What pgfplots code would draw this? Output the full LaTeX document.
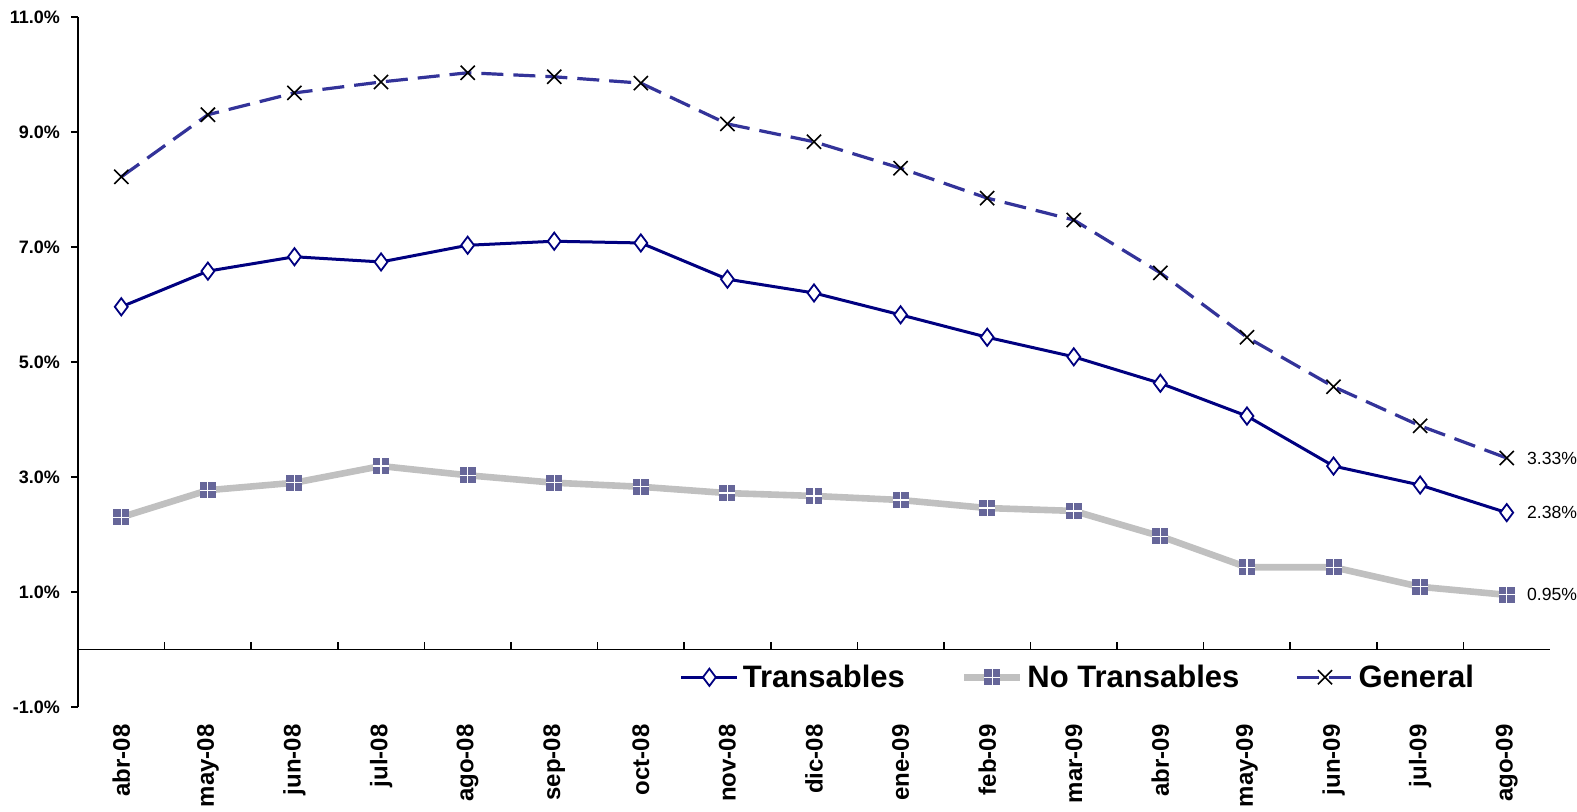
\documentclass[border=0pt]{standalone}
\usepackage{pgfplots}
\pgfplotsset{compat=1.18}
\usepackage{fontspec}
\setmainfont{Liberation Sans}
\definecolor{navy}{RGB}{0,0,128}
\definecolor{genblue}{RGB}{51,51,153}
\definecolor{ntgray}{RGB}{192,192,192}
\definecolor{ntmark}{RGB}{102,102,153}

\pgfdeclareplotmark{sqplus}{%
  \pgfsetfillcolor{ntmark}%
  \pgfpathrectangle{\pgfpoint{-\pgfplotmarksize}{-\pgfplotmarksize}}{\pgfpoint{2\pgfplotmarksize}{2\pgfplotmarksize}}%
  \pgfusepath{fill}%
  \pgfsetstrokecolor{white}\pgfsetlinewidth{0.6pt}%
  \pgfpathmoveto{\pgfpoint{-\pgfplotmarksize}{0pt}}\pgfpathlineto{\pgfpoint{\pgfplotmarksize}{0pt}}%
  \pgfpathmoveto{\pgfpoint{0pt}{-\pgfplotmarksize}}\pgfpathlineto{\pgfpoint{0pt}{\pgfplotmarksize}}%
  \pgfusepath{stroke}}

\pgfplotstableread{
x trans notrans general
0  5.96 2.30 8.22
1  6.58 2.77 9.30
2  6.83 2.90 9.68
3  6.74 3.19 9.87
4  7.03 3.03 10.03
5  7.10 2.90 9.96
6  7.07 2.83 9.85
7  6.44 2.72 9.14
8  6.20 2.67 8.83
9  5.82 2.60 8.37
10 5.43 2.46 7.85
11 5.09 2.41 7.47
12 4.63 1.97 6.55
13 4.06 1.43 5.43
14 3.19 1.43 4.57
15 2.86 1.09 3.89
16 2.38 0.95 3.33
}\datatable

\begin{document}
\begin{tikzpicture}
\begin{axis}[
  name=ax,
  scale only axis,
  width=736pt, height=345pt,
  xmin=-0.5, xmax=16.5,
  ymin=-1, ymax=11,
  clip=false,
  axis y line=left,
  axis x line=bottom,
  x axis line style={draw=none},
  y axis line style={-, line width=0.8pt},
  xtick=data,
  xticklabels={abr-08,may-08,jun-08,jul-08,ago-08,sep-08,oct-08,nov-08,dic-08,ene-09,feb-09,mar-09,abr-09,may-09,jun-09,jul-09,ago-09},
  major x tick style={draw=none},
  xticklabel style={rotate=90, anchor=east, font=\bfseries\fontsize{12}{14}\selectfont, inner sep=0pt, yshift=0pt, xshift=-5pt},
  ytick={-1,1,3,5,7,9,11},
  yticklabel={\pgfmathprintnumber[fixed,fixed zerofill,precision=1]{\tick}\%},
  /pgf/number format/assume math mode=true,
  yticklabel style={font=\bfseries\fontsize{9}{11}\selectfont, xshift=-2pt},
  tick align=outside,
  major tick length=3.5pt,
  major y tick style={line width=0.8pt, black},
  legend style={draw=none, fill=none, at={(0.68,0.043)}, anchor=center,
    font=\bfseries\fontsize{15.5}{18}\selectfont,
    /tikz/every even column/.append style={column sep=26pt}},
  legend columns=3,
  legend cell align=left,
  legend image code/.code={\draw[mark repeat=2,mark phase=2,#1] plot coordinates {(0pt,0pt) (14pt,0pt) (28pt,0pt)};},
]
\addplot[navy, line width=1.5pt, mark=diamond*, mark size=4.3pt, mark options={solid, fill=white, draw=navy, line width=0.9pt}] table[x=x,y=trans] {\datatable};
\addlegendentry{Transables}
\addplot[ntgray, line width=3.3pt, mark=sqplus, mark size=4pt] table[x=x,y=notrans] {\datatable};
\addlegendentry{No Transables}
\addplot[genblue, line width=1.6pt, dash pattern=on 11pt off 5pt, mark=x, mark size=5pt, mark options={solid, black, line width=0.8pt}] table[x=x,y=general] {\datatable};
\addlegendentry{General}

\draw[line width=0.8pt] (axis cs:-0.5,0) -- (axis cs:16.5,0);
\pgfplotsinvokeforeach{0.5,1.5,...,15.5}{\draw[line width=0.8pt] (axis cs:#1,0) -- ++(0pt,3.5pt);}

\node[anchor=west, inner sep=0pt, font=\fontsize{8.8}{11}\selectfont] at ([xshift=10pt]axis cs:16,3.33) {3.33\%};
\node[anchor=west, inner sep=0pt, font=\fontsize{8.8}{11}\selectfont] at ([xshift=10pt]axis cs:16,2.38) {2.38\%};
\node[anchor=west, inner sep=0pt, font=\fontsize{8.8}{11}\selectfont] at ([xshift=10pt]axis cs:16,0.95) {0.95\%};
\end{axis}
\pgfresetboundingbox
\path[use as bounding box] ([xshift=-39pt,yshift=-52.5pt]ax.south west) rectangle ([xshift=749.5pt,yshift=353.5pt]ax.south west);
\end{tikzpicture}
\end{document}
